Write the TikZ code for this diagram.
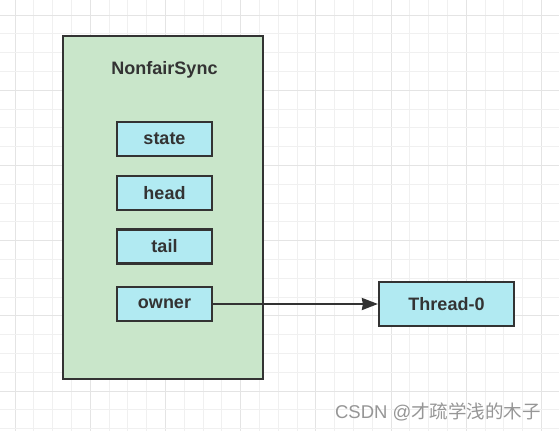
\documentclass[tikz,border=0pt]{standalone}
\usepackage{fontspec}
\setmainfont{Liberation Sans}
\newfontfamily\cjk{Noto Sans CJK SC}
\usetikzlibrary{arrows.meta,positioning}
\definecolor{syncgreen}{RGB}{201,230,202}
\definecolor{fieldblue}{RGB}{177,234,242}
\definecolor{darkline}{RGB}{51,51,51}
\definecolor{gridgray}{RGB}{240,240,240}
\definecolor{gridmajor}{RGB}{228,228,228}
\definecolor{markgray}{RGB}{150,150,150}

\begin{document}
\begin{tikzpicture}[x=1pt,y=-1pt,node distance=54pt,on grid,>={Stealth[length=16pt,width=12pt,inset=1pt]},
    gridline/.style={draw=gridgray,line width=1pt},
    syncbox/.style={draw=darkline,line width=2.2pt,fill=syncgreen,minimum width=200pt,minimum height=343pt,inner sep=0pt},
    field/.style={draw=darkline,line width=2.2pt,fill=fieldblue,minimum width=95pt,minimum height=34pt,inner sep=0pt,text=darkline,font=\bfseries\fontsize{18}{18}\selectfont},
    thread/.style={field,minimum width=135pt,minimum height=44pt}]
        \useasboundingbox (0,0) rectangle (559,431);
        \fill[white] (0,0) rectangle (559,431);
        % background grid, every 4th line a bit darker
        \foreach \gx in {0,...,29}{
            \pgfmathsetmacro\gcol{mod(\gx,4)==0 ? "gridmajor" : "gridgray"}
            \draw[gridline,draw=\gcol] (15+\gx*18.8,0) -- (15+\gx*18.8,431);}
        \foreach \gy in {0,...,22}{
            \pgfmathsetmacro\gcol{mod(\gy,4)==0 ? "gridmajor" : "gridgray"}
            \draw[gridline,draw=\gcol] (0,15+\gy*18.8) -- (559,15+\gy*18.8);}

        \node[syncbox]  (sync)  at (163,207.5)               {};
        \node[field]    (state) at (164.5,139)               {state};
        \node[text=darkline,font=\bfseries\fontsize{18}{18}\selectfont]
                        (title) [above=69pt of state]        {NonfairSync};
        \node[field]    (head)  [below=of state]             {head};
        \node[field]    (tail)  [below=53.5pt of head]       {tail};
        \node[field]    (owner) [below=57.5pt of tail]       {owner};
        \node[thread]   (t0)    [right=282pt of owner]       {Thread-0};

        \draw[->,draw=darkline,fill=darkline,line width=2.2pt] (owner) -- (t0);

        \node[text=markgray,font=\fontsize{18.5}{18.5}\selectfont] (mark) at (438,412) {CSDN @{\cjk 才疏学浅的木子}};
\end{tikzpicture}
\end{document}
